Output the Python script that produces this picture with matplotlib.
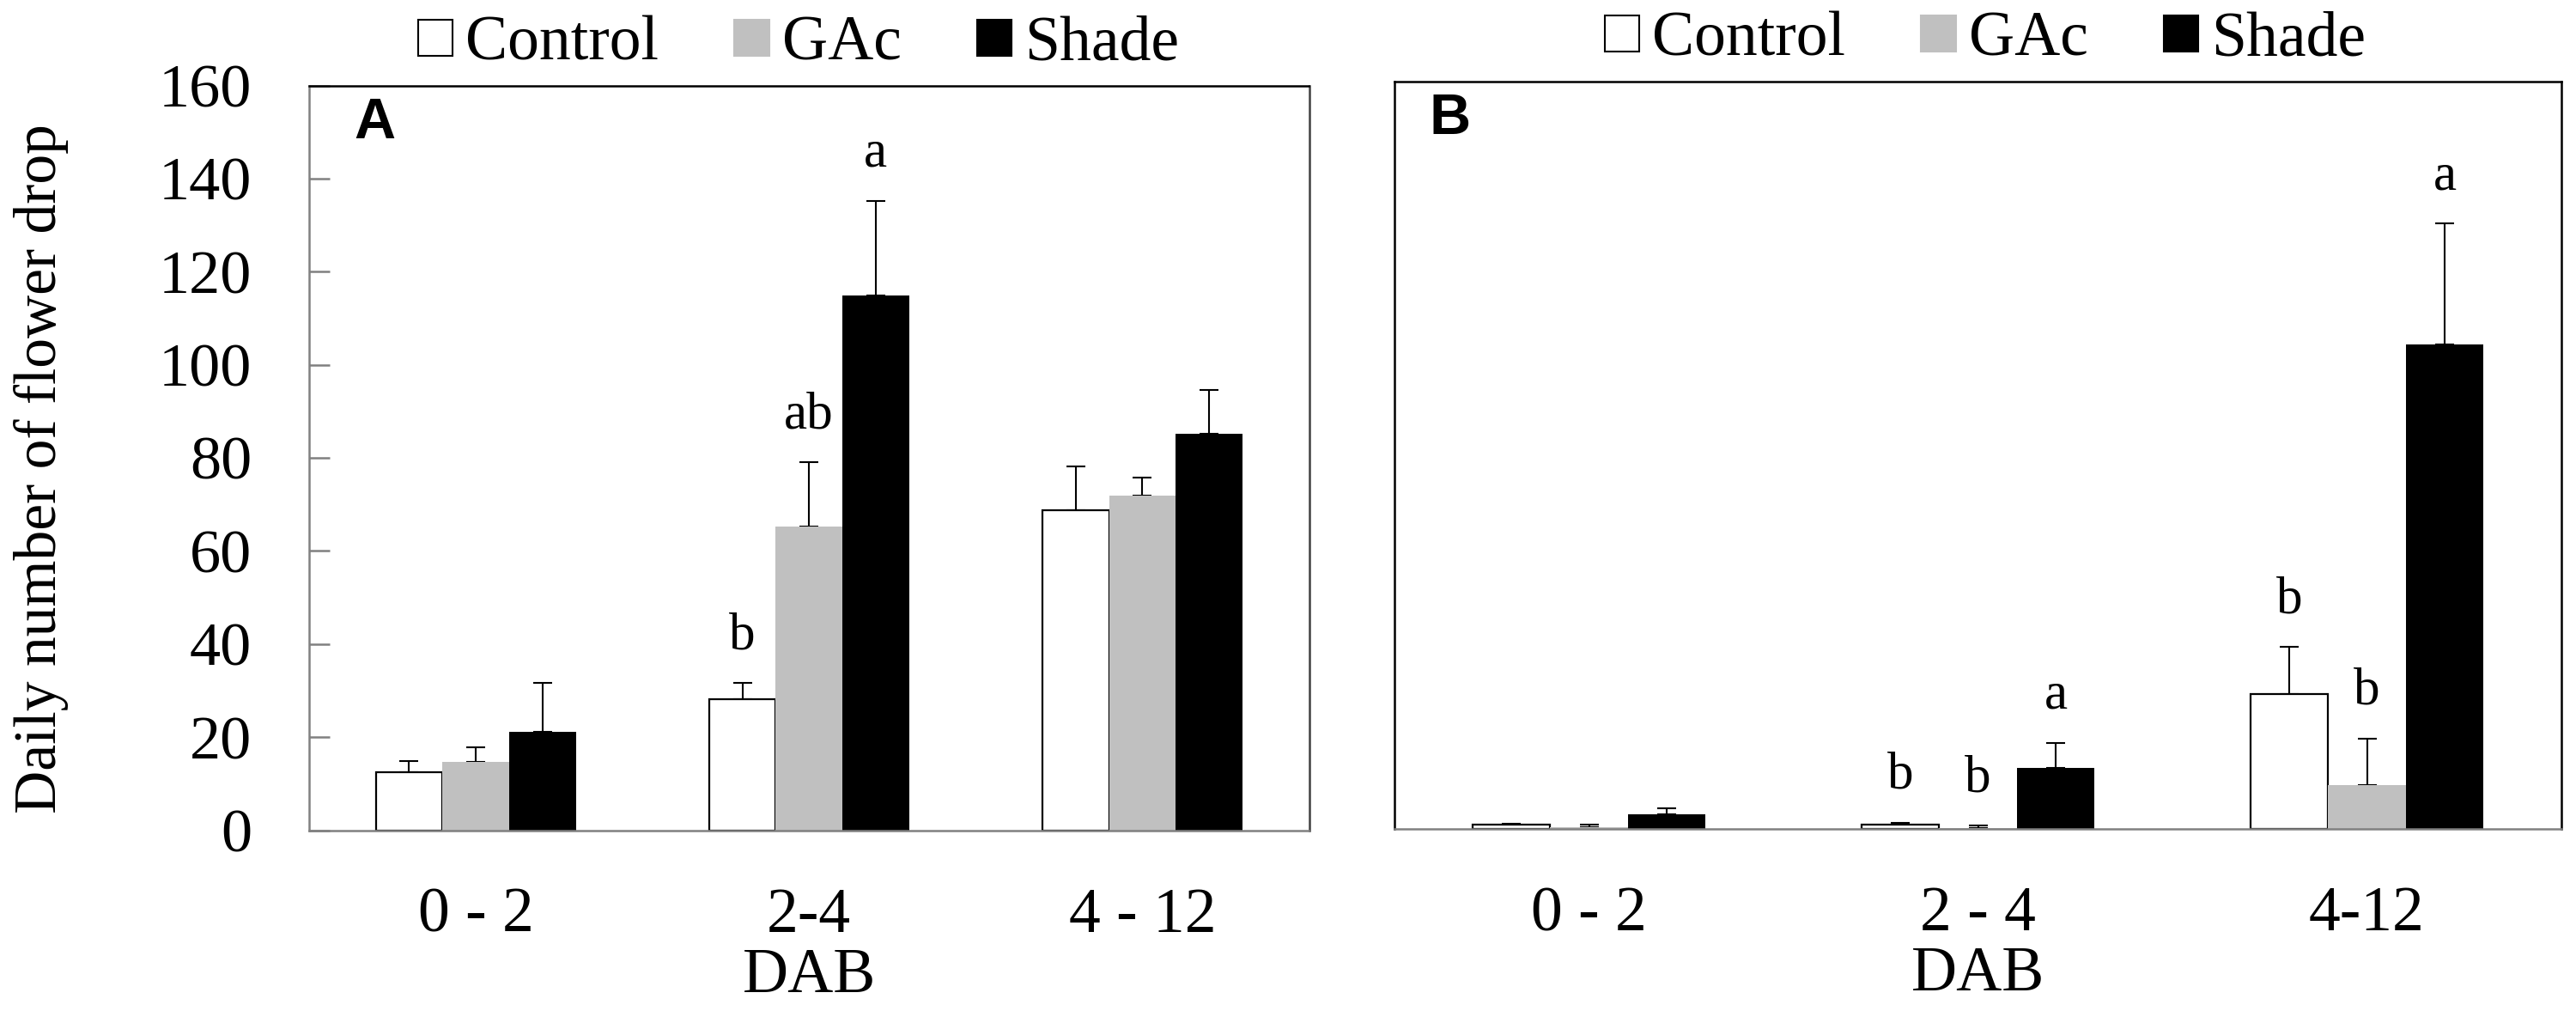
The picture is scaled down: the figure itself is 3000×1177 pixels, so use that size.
import numpy as np
import matplotlib
matplotlib.use("Agg")
import matplotlib.pyplot as plt
from matplotlib.patches import Patch

plt.rcParams["font.family"] = ["Liberation Serif", "DejaVu Serif"]

# ---- data ----
treatments = ["Control", "GAc", "Shade"]
colors = ["white", "#c0c0c0", "black"]

ticks_a = ["0 - 2", "2-4", "4 - 12"]
ticks_b = ["0 - 2", "2 - 4", "4-12"]

# panel A (rows = treatment, cols = DAB interval)
mean_a = [[12.5, 28.1, 68.8],
          [14.7, 65.2, 71.9],
          [21.1, 114.9, 85.1]]
err_a = [[2.3, 3.5, 9.4],
         [3.2, 13.8, 3.9],
         [10.5, 20.3, 9.5]]
letters_a = [["", "b", ""],
             ["", "ab", ""],
             ["", "a", ""]]

# panel B
mean_b = [[0.9, 0.9, 28.9],
          [0.45, 0.1, 9.3],
          [3.1, 13.1, 103.8]]
err_b = [[0.2, 0.4, 10.0],
         [0.45, 0.55, 10.0],
         [1.3, 5.3, 25.8]]
letters_b = [["", "b", "b"],
             ["", "b", "b"],
             ["", "a", "a"]]

ylabel = "Daily number of flower drop"
xlabel = "DAB"

W, H = 3000, 1177
fig = plt.figure(figsize=(W / 100, H / 100), dpi=100)

ax_a = fig.add_axes([360 / W, 1 - 966.5 / H, 1164.5 / W, 867 / H])
ax_b = fig.add_axes([1624 / W, 1 - 965 / H, 1359 / W, 870 / H])


def draw_panel(ax, means, errs, letters, ticklabels, tag):
    x = np.arange(len(ticklabels))
    width = 0.2
    for i, (m, e, c) in enumerate(zip(means, errs, colors)):
        pos = x + (i - 1) * width
        ax.bar(pos, m, width, color=c,
               edgecolor="black" if c == "white" else c,
               linewidth=1.6 if c == "white" else 0, zorder=2)
        ax.errorbar(pos, m, yerr=[np.zeros(len(m)), e], fmt="none",
                    ecolor="black", elinewidth=1.5, capsize=8,
                    capthick=1.5, zorder=1)
        for p, v, ee, lab in zip(pos, m, e, letters[i]):
            if lab:
                ax.text(p, v + ee + 5, lab, ha="center", va="bottom",
                        fontsize=44)
    ax.set_xlim(-0.5, len(ticklabels) - 0.5)
    ax.set_ylim(0, 160)
    ax.set_xticks(x)
    ax.set_xticklabels(ticklabels, fontsize=53)
    ax.tick_params(axis="x", length=0, pad=48)
    ax.set_xlabel(xlabel, fontsize=53, labelpad=2)
    ax.text(0.045 if tag == "A" else 0.03, 0.985, tag, transform=ax.transAxes,
            ha="left", va="top", fontsize=48, fontweight="bold",
            family=["Liberation Sans", "DejaVu Sans"])
    for s in ax.spines.values():
        s.set_linewidth(1.8)


draw_panel(ax_a, mean_a, err_a, letters_a, ticks_a, "A")
draw_panel(ax_b, mean_b, err_b, letters_b, ticks_b, "B")

# panel A y axis
ax_a.set_yticks(np.arange(0, 161, 20))
ax_a.tick_params(axis="y", direction="in", length=17, width=1.8,
                 color="#808080", labelsize=52, pad=48)
ax_a.set_ylabel(ylabel, fontsize=50, va="center")
ax_a.yaxis.set_label_coords(-0.268, 0.486)
ax_a.spines["left"].set_color("#808080")
ax_a.spines["bottom"].set_color("#808080")
ax_a.spines["right"].set_color("#404040")

ax_b.set_yticks([])
ax_b.spines["bottom"].set_color("#808080")

# legends
handles = [Patch(facecolor=c, edgecolor="black" if c == "white" else c,
                 linewidth=1.5) for c in colors]
for cx, cy in [(930, 52), (2312, 47)]:
    fig.legend(handles, treatments, loc="center",
               bbox_to_anchor=(cx / W, 1 - cy / H), ncol=3, frameon=False,
               fontsize=53, handlelength=0.55, handleheight=0.5,
               handletextpad=0.2, columnspacing=1.2, borderpad=0,
               borderaxespad=0)

fig.savefig("out.png", dpi=100)
